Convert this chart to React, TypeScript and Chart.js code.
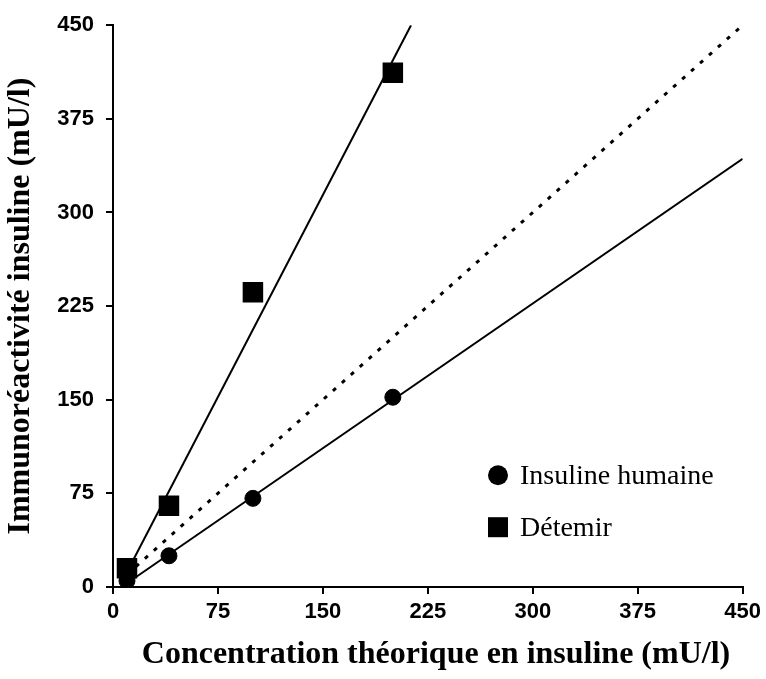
import React, { useEffect, useRef } from "react";
import { Chart, registerables } from "chart.js";

Chart.register(...registerables);

const concentrations = [10, 40, 100, 200];
const humaineValues = [5, 25, 71, 152];
const detemirValues = [15, 65, 236, 412];
const humaineFitX = [10, 450];
const humaineFitY = [3, 343];
const detemirFitX = [10, 213];
const detemirFitY = [12, 450];
const identityX = [10, 450];
const identityY = [10, 450];
const tickValues = [0, 75, 150, 225, 300, 375, 450];
const legendLabels = ["Insuline humaine", "Détemir"];
const xTitle = "Concentration théorique en insuline (mU/l)";
const yTitle = "Immunoréactivité insuline (mU/l)";

const pts = (xs: number[], ys: number[]) => xs.map((x, i) => ({ x, y: ys[i] }));

const overlayPlugin = {
  id: "overlay",
  afterDatasetsDraw(chart: any) {
    const { ctx, chartArea } = chart;
    const x0 = chartArea.left + 385;
    const y1 = chartArea.top + 450;
    const y2 = chartArea.top + 502;
    ctx.save();
    ctx.fillStyle = "#000";
    ctx.beginPath();
    ctx.arc(x0, y1, 10, 0, Math.PI * 2);
    ctx.fill();
    ctx.fillRect(x0 - 10, y2 - 10, 20, 20);
    ctx.font = "28px 'Liberation Serif', 'Times New Roman', serif";
    ctx.textBaseline = "middle";
    ctx.textAlign = "left";
    ctx.fillText(legendLabels[0], x0 + 22, y1 + 1);
    ctx.fillText(legendLabels[1], x0 + 22, y2 + 1);

    ctx.font = "bold 32px 'Liberation Serif', 'Times New Roman', serif";
    ctx.textAlign = "center";
    ctx.textBaseline = "middle";
    ctx.fillText(xTitle, chartArea.left + 323, chartArea.bottom + 68);
    ctx.restore();
  },
};

export default function App() {
  const ref = useRef<HTMLCanvasElement | null>(null);
  useEffect(() => {
    if (!ref.current) return;
    const tickFont = { family: "'Liberation Sans', Arial, sans-serif", size: 22, weight: "bold" as const };
    const titleFont = { family: "'Liberation Serif', 'Times New Roman', serif", size: 32, weight: "bold" as const };
    const chart = new Chart(ref.current, {
      type: "scatter",
      data: {
        datasets: [
          {
            label: "fit humaine",
            data: pts(humaineFitX, humaineFitY),
            showLine: true,
            borderColor: "#000",
            borderWidth: 2,
            pointRadius: 0,
            order: 3,
          },
          {
            label: "fit detemir",
            data: pts(detemirFitX, detemirFitY),
            showLine: true,
            borderColor: "#000",
            borderWidth: 2,
            pointRadius: 0,
            order: 3,
          },
          {
            label: "identité",
            data: pts(identityX, identityY),
            showLine: true,
            borderColor: "#000",
            borderWidth: 3,
            borderDash: [4, 8],
            pointRadius: 0,
            order: 3,
          },
          {
            label: legendLabels[0],
            data: pts(concentrations, humaineValues),
            pointStyle: "circle",
            pointRadius: 8,
            backgroundColor: "#000",
            borderColor: "#000",
            borderWidth: 1,
            order: 1,
          },
          {
            label: legendLabels[1],
            data: pts(concentrations, detemirValues),
            pointStyle: "rect",
            pointRadius: 14.5,
            backgroundColor: "#000",
            borderColor: "#000",
            borderWidth: 0,
            order: 2,
          },
        ],
      },
      options: {
        animation: false,
        responsive: false,
        devicePixelRatio: 1,
        layout: { padding: { top: 25, right: 23, left: 0, bottom: 0 } },
        plugins: { legend: { display: false }, tooltip: { enabled: false } },
        scales: {
          x: {
            type: "linear",
            min: 0,
            max: 450,
            afterBuildTicks: (s: any) => {
              s.ticks = tickValues.map((v) => ({ value: v }));
            },
            afterFit: (s: any) => {
              s.height = 92;
            },
            grid: { drawOnChartArea: false, tickLength: 7, color: "#000", lineWidth: 2 },
            border: { color: "#000", width: 2 },
            ticks: { color: "#000", font: tickFont, padding: 5, maxRotation: 0 },
            title: { display: false, text: xTitle },
          },
          y: {
            type: "linear",
            min: 0,
            max: 450,
            afterBuildTicks: (s: any) => {
              s.ticks = tickValues.map((v) => ({ value: v }));
            },
            afterFit: (s: any) => {
              s.width = 113;
            },
            grid: { drawOnChartArea: false, tickLength: 7, color: "#000", lineWidth: 2 },
            border: { color: "#000", width: 2 },
            ticks: { color: "#000", font: tickFont, padding: 12 },
            title: { display: true, text: yTitle, color: "#000", font: titleFont, padding: { top: 2, bottom: 0 } },
          },
        },
      },
      plugins: [overlayPlugin],
    });
    return () => chart.destroy();
  }, []);
  return (
    <div style={{ width: 766, height: 679 }}>
      <style>{"body{margin:0}"}</style>
      <canvas ref={ref} width={766} height={679} style={{ display: "block" }} />
    </div>
  );
}
